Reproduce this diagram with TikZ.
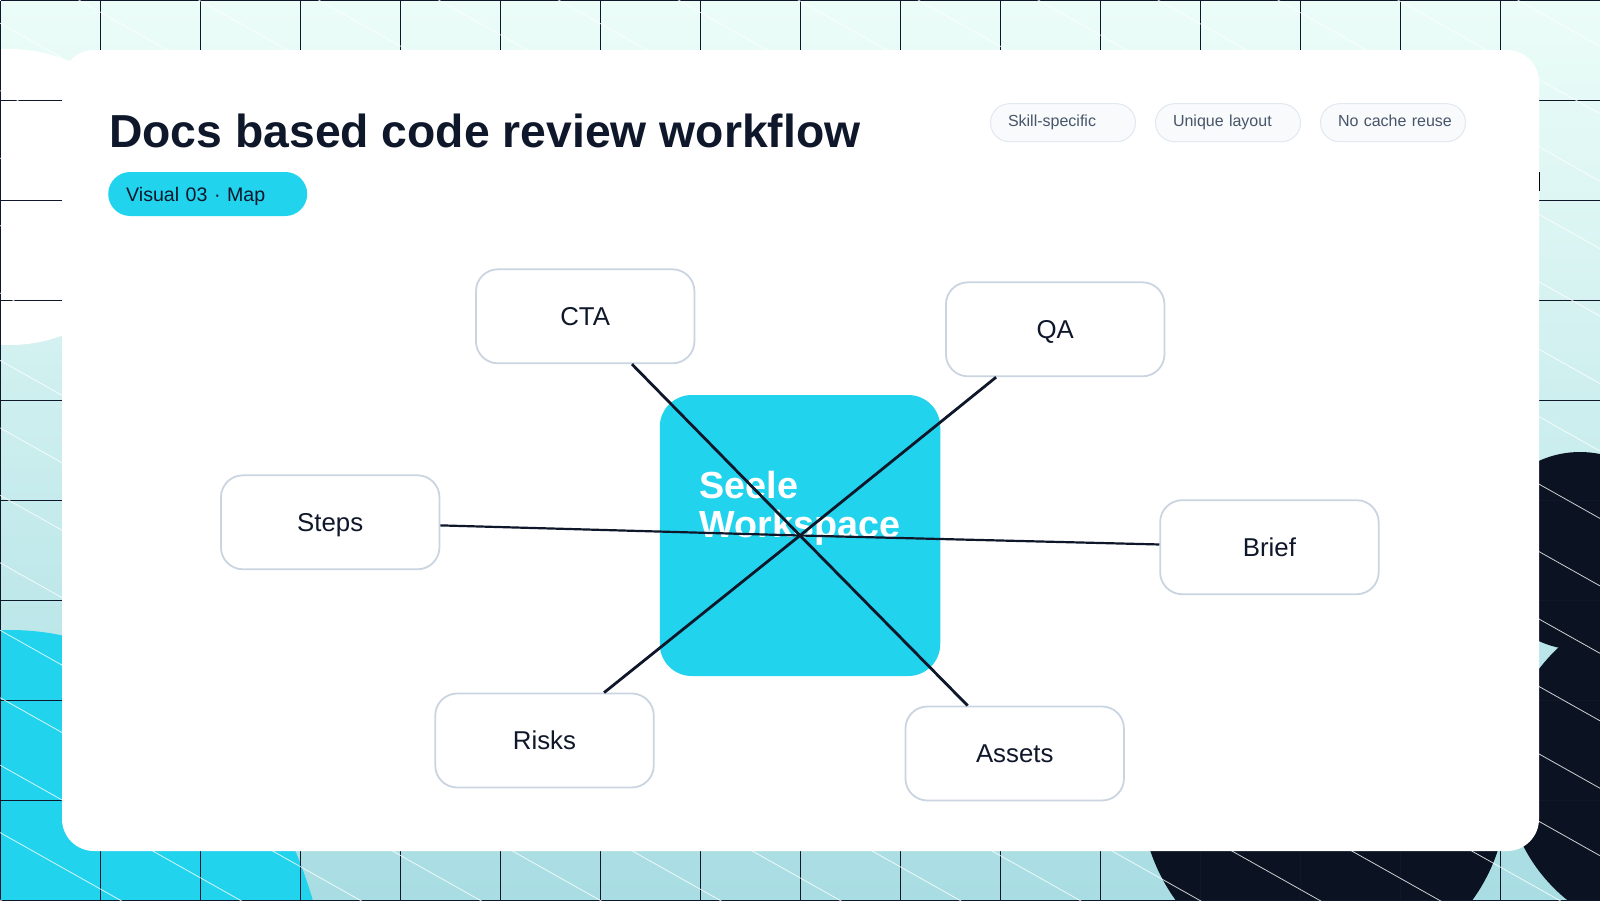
\documentclass[tikz,border=0pt]{standalone}
\usepackage{fontspec}
\setmainfont{Liberation Sans}
\definecolor{ink}{HTML}{0F172A}
\definecolor{night}{HTML}{0B1322}
\definecolor{cyanfill}{HTML}{22D3EE}
\definecolor{skytop}{HTML}{ECFDF8}
\definecolor{skybottom}{HTML}{A8DDE3}
\definecolor{boxline}{HTML}{CBD5E1}
\definecolor{tagline}{HTML}{E2E8F0}
\definecolor{tagfill}{HTML}{F8FAFC}
\definecolor{tagtext}{HTML}{475569}
\begin{document}
\begin{tikzpicture}[x=1pt, y=-1pt,
  box/.style = {draw=boxline, fill=white, line width=1.8pt, rectangle, rounded corners=22pt, minimum width=218.5pt, minimum height=94pt, inner sep=0pt, text=ink, text height=22pt, text depth=4pt, font=\fontsize{25.8}{30}\selectfont},
  tag/.style = {draw=tagline, fill=tagfill, line width=1pt, rectangle, rounded corners=19pt, minimum height=38pt, text width=110pt, align=left, inner xsep=17.5pt, inner ysep=0pt, anchor=west, text=tagtext, text height=11pt, text depth=3pt, font=\fontsize{16}{18}\selectfont},
  pill/.style = {fill=cyanfill, rectangle, rounded corners=22pt, minimum height=44pt, text width=163pt, align=left, inner xsep=18pt, inner ysep=0pt, anchor=west, text=ink, text height=18pt, text depth=4pt, font=\fontsize{19.6}{24}\selectfont},
  link/.style = {draw=ink, line width=2.8pt},
  stripe/.style = {draw=white, line width=0.8pt, opacity=0.8}]
  \useasboundingbox (0, 0) rectangle (1600, 900);
  \begin{scope}
    \clip (0, 0) rectangle (1600, 900);
    \shade[top color=skytop, bottom color=skybottom] (0, 0) rectangle (1600, 900);
    \fill[white] (10, 197) circle (148);
    \fill[cyanfill] (10, 1050) ellipse (324 and 420);
    \fill[night] (1580, 551) circle (99);
    \fill[night] (1672, 770) circle (167);
    \fill[night] (1324, 793) circle (183);
    \draw[ink, line width=1pt, shift={(0.5, 0.5)}, xstep=100pt, ystep=100pt] (0, 0) grid (1600, 900);
    \foreach \k in {-14,...,13}
      \draw[stripe] (0, 23.15+67.45*\k) -- (1600, 923.15+67.45*\k);
  \end{scope}
  \fill[white, rounded corners=32pt] (62, 50) rectangle (1539, 851);
  \draw[black, line width=1pt] (1539.5, 172) -- (1539.5, 191);
  \node[anchor=base west, inner sep=0pt, text=ink, font=\fontsize{46.3}{50}\selectfont\bfseries] at (109, 147) (title) {Docs based code review workflow};
  \node[pill] at (108, 194) (visual) {Visual 03 · Map};
  \node[tag] at (990, 122.7) (skill) {Skill-specific};
  \node[tag] at (1155, 122.7) (unique) {Unique layout};
  \node[tag] at (1320, 122.7) (cache) {\mbox{No cache reuse}};
  \node[fill=cyanfill, rectangle, rounded corners=32pt, minimum width=280.5pt, minimum height=281pt] at (800, 535.5) (workspace) {};
  \node[anchor=north west, inner sep=0pt, align=left, text=white, font=\fontsize{37.7}{39}\selectfont\bfseries] at (699.5, 471) (workspace-text) {Seele\\Workspace};
  \node[box] at (585.2, 316.3) (cta) {CTA};
  \node[box] at (1055.2, 329.3) (qa) {QA};
  \node[box] at (330.2, 522.3) (steps) {Steps};
  \node[box] at (1269.4, 547.2) (brief) {Brief};
  \node[box] at (544.5, 740.5) (risks) {Risks};
  \node[box] at (1014.7, 753.5) (assets) {Assets};
  \draw[link] (workspace.center) -- (cta);
  \draw[link] (workspace.center) -- (qa);
  \draw[link, line width=2.2pt] (workspace.center) -- (steps);
  \draw[link, line width=2.2pt] (workspace.center) -- (brief);
  \draw[link] (workspace.center) -- (risks);
  \draw[link] (workspace.center) -- (assets);
\end{tikzpicture}
\end{document}
